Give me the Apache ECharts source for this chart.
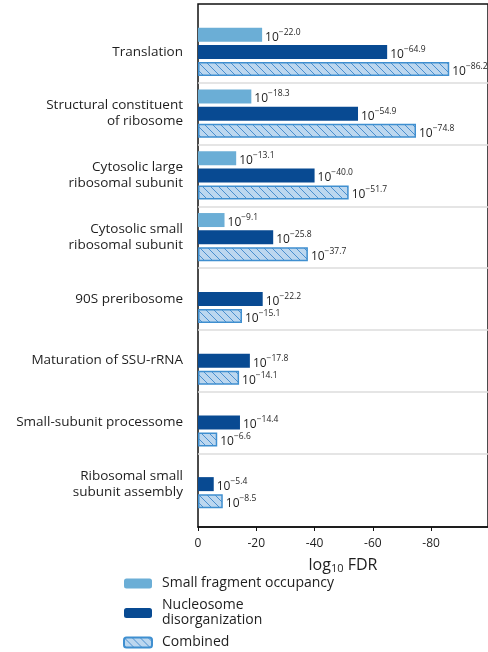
<!DOCTYPE html>
<html>
<head>
<meta charset="utf-8">
<script src="https://cdn.jsdelivr.net/npm/echarts@6/dist/echarts.min.js"></script>
<style>
  html, body { margin: 0; padding: 0; background: #fff; }
  #chart { width: 488px; height: 652px; }
</style>
</head>
<body>
<div id="chart"></div>
<script>
// data (magnitude of log10 FDR)
var categories = [
  'Translation',
  'Structural constituent\nof ribosome',
  'Cytosolic large\nribosomal subunit',
  'Cytosolic small\nribosomal subunit',
  '90S preribosome',
  'Maturation of SSU-rRNA',
  'Small-subunit processome',
  'Ribosomal small\nsubunit assembly'
]
var smallFragment = [22.0, 18.3, 13.1, 9.1, null, null, null, null]
var nucleosome = [64.9, 54.9, 40.0, 25.8, 22.2, 17.8, 14.4, 5.4]
var combined = [86.2, 74.8, 51.7, 37.7, 15.1, 14.1, 6.6, 8.5]
var xTicks = [0, 20, 40, 60, 80]

var FONT = 'Open Sans'
var TXT = '#1e1e1e'

// hatch pattern for the combined bars
function hatch() {
  var s = 8
  var c = document.createElement('canvas')
  c.width = s
  c.height = s
  var ctx = c.getContext('2d')
  ctx.fillStyle = '#bcd7ef'
  ctx.fillRect(0, 0, s, s)
  ctx.strokeStyle = '#4a8fcf'
  ctx.lineWidth = 1
  ctx.beginPath()
  ctx.moveTo(-1, -1); ctx.lineTo(s + 1, s + 1)
  ctx.moveTo(-1, s - 1); ctx.lineTo(1, s + 1)
  ctx.moveTo(s - 1, -1); ctx.lineTo(s + 1, 1)
  ctx.stroke()
  return c
}

var valueLabel = {
  show: true,
  position: 'right',
  distance: 3,
  formatter: function (p) {
    return '{b|10}{s|\u2212' + p.value.toFixed(1) + '}'
  },
  rich: {
    b: { fontFamily: FONT, fontSize: 12, color: TXT, padding: [5, 0, 0, 0] },
    s: { fontFamily: FONT, fontSize: 8.5, color: TXT, padding: [0, 0, 5, 0] }
  }
}

var mycharts = echarts.init(document.getElementById('chart'))
mycharts.setOption({
  animation: false,
  textStyle: { fontFamily: FONT },
  grid: [
    // frame (spines + x axis)
    { left: 198, right: 0, top: 4, bottom: 125, show: true, borderColor: '#111', borderWidth: 1.5 },
    // bars
    { left: 198, right: 0, top: 21, bottom: 137 }
  ],
  legend: {
    orient: 'vertical',
    left: 123,
    top: 576,
    padding: 0,
    itemWidth: 28,
    itemHeight: 10,
    itemGap: 7,
    textStyle: { fontFamily: FONT, fontSize: 14, color: TXT, lineHeight: 15, padding: [0, 0, 0, 5] },
    formatter: function (name) {
      return name === 'Nucleosome disorganization' ? 'Nucleosome\ndisorganization' : name
    },
    data: ['Small fragment occupancy', 'Nucleosome disorganization', 'Combined']
  },
  xAxis: [
    {
      gridIndex: 0,
      type: 'value',
      min: 0,
      max: 99.5,
      axisLine: { show: true, lineStyle: { color: '#111', width: 1.5 } },
      axisTick: { show: true, length: 4, customValues: xTicks, lineStyle: { color: '#111' } },
      axisLabel: {
        customValues: xTicks,
        margin: 11,
        fontFamily: FONT,
        fontSize: 12,
        color: TXT,
        formatter: function (v) { return v === 0 ? '0' : '-' + v }
      },
      splitLine: { show: false },
      name: '{a|log}{sub|10}{a| FDR}',
      nameLocation: 'middle',
      nameGap: 30,
      nameTextStyle: {
        rich: {
          a: { fontFamily: FONT, fontSize: 16, color: TXT },
          sub: { fontFamily: FONT, fontSize: 11, color: TXT, padding: [6, 0, 0, 0] }
        }
      }
    },
    { gridIndex: 1, type: 'value', min: 0, max: 99.5, show: false }
  ],
  yAxis: [
    { gridIndex: 0, type: 'value', show: false },
    {
      gridIndex: 1,
      type: 'category',
      inverse: true,
      data: categories,
      axisLine: { show: false },
      axisTick: { show: false },
      axisLabel: { margin: 15, fontFamily: FONT, fontSize: 13.5, color: TXT, lineHeight: 16 },
      splitLine: {
        show: true,
        showMinLine: false,
        showMaxLine: false,
        lineStyle: { color: '#dcdcdc', width: 1.5 }
      }
    }
  ],
  series: [
    {
      name: 'Small fragment occupancy',
      type: 'bar',
      xAxisIndex: 1,
      yAxisIndex: 1,
      data: smallFragment,
      barWidth: 14,
      barGap: '22%',
      itemStyle: { color: '#6baed6' },
      label: valueLabel
    },
    {
      name: 'Nucleosome disorganization',
      type: 'bar',
      xAxisIndex: 1,
      yAxisIndex: 1,
      data: nucleosome,
      barWidth: 14,
      barGap: '22%',
      itemStyle: { color: '#084a92' },
      label: valueLabel
    },
    {
      name: 'Combined',
      type: 'bar',
      xAxisIndex: 1,
      yAxisIndex: 1,
      data: combined,
      barWidth: 14,
      barGap: '22%',
      itemStyle: {
        color: { image: hatch(), repeat: 'repeat' },
        borderColor: '#3f8fd0',
        borderWidth: 1.5
      },
      label: valueLabel
    }
  ]
})
</script>
</body>
</html>
